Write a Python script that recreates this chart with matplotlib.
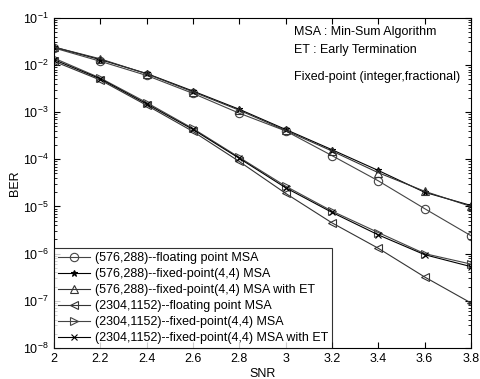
import matplotlib
matplotlib.use("Agg")
import matplotlib.pyplot as plt
from matplotlib.ticker import LogLocator, NullFormatter

plt.rcParams['font.family'] = ['Liberation Sans', 'DejaVu Sans']
plt.rcParams['mathtext.default'] = 'regular'

snr = [2.0, 2.2, 2.4, 2.6, 2.8, 3.0, 3.2, 3.4, 3.6, 3.8]

# BER curves
ber_576_float = [2.3e-2, 1.2e-2, 6.0e-3, 2.5e-3, 9.5e-4, 4.0e-4, 1.2e-4, 3.5e-5, 9.0e-6, 2.4e-6]
ber_576_fixed = [2.4e-2, 1.3e-2, 6.6e-3, 2.8e-3, 1.15e-3, 4.3e-4, 1.6e-4, 5.8e-5, 2.0e-5, 1.05e-5]
ber_576_fixed_et = [2.4e-2, 1.35e-2, 6.5e-3, 2.7e-3, 1.1e-3, 4.1e-4, 1.5e-4, 5.2e-5, 2.1e-5, 1.0e-5]
ber_2304_float = [1.2e-2, 4.8e-3, 1.4e-3, 3.9e-4, 9.0e-5, 1.9e-5, 4.5e-6, 1.3e-6, 3.2e-7, 9.0e-8]
ber_2304_fixed = [1.4e-2, 5.3e-3, 1.6e-3, 4.5e-4, 1.1e-4, 2.7e-5, 8.0e-6, 2.8e-6, 1.0e-6, 6.0e-7]
ber_2304_fixed_et = [1.3e-2, 5.1e-3, 1.5e-3, 4.3e-4, 1.05e-4, 2.5e-5, 7.5e-6, 2.5e-6, 9.5e-7, 5.3e-7]

labels = [
    "(576,288)--floating point MSA",
    "(576,288)--fixed-point(4,4) MSA",
    "(576,288)--fixed-point(4,4) MSA with ET",
    "(2304,1152)--floating point MSA",
    "(2304,1152)--fixed-point(4,4) MSA",
    "(2304,1152)--fixed-point(4,4) MSA with ET",
]

fig = plt.figure(figsize=(4.81, 3.79), dpi=100)
ax = fig.add_axes([0.112, 0.082, 0.867, 0.871])

series = [ber_576_float, ber_576_fixed, ber_576_fixed_et,
          ber_2304_float, ber_2304_fixed, ber_2304_fixed_et]
markers = ['o', '*', '^', '<', '>', 'x']
msizes = [6, 5, 6, 6, 6, 4]
colors = ['#444444', 'black', '#333333', '#333333', '#444444', 'black']

for ys, m, ms, c, lab in zip(series, markers, msizes, colors, labels):
    ax.semilogy(snr, ys, color=c, marker=m, markersize=ms, lw=0.8,
                markerfacecolor='none' if m not in ('*', 'x') else c,
                markeredgecolor=c, markeredgewidth=0.8, label=lab)

ax.set_xlim(2, 3.8)
ax.set_ylim(1e-8, 1e-1)
ax.set_xticks(snr)
ax.set_xticklabels([f"{v:g}" for v in snr])
ax.yaxis.set_major_locator(LogLocator(base=10, numticks=10))
ax.yaxis.set_minor_locator(LogLocator(base=10, subs=range(2, 10), numticks=20))
ax.yaxis.set_minor_formatter(NullFormatter())
ax.tick_params(which='both', direction='in', top=True, right=True, labelsize=9)
ax.tick_params(which='major', length=4)
ax.tick_params(which='minor', length=2)
for s in ax.spines.values():
    s.set_linewidth(0.8)

ax.set_xlabel("SNR", fontsize=9, labelpad=2)
ax.set_ylabel("BER", fontsize=9, labelpad=2)

ax.text(0.576, 0.976, "MSA : Min-Sum Algorithm", transform=ax.transAxes,
        fontsize=9, va='top')
ax.text(0.576, 0.921, "ET : Early Termination", transform=ax.transAxes,
        fontsize=9, va='top')
ax.text(0.576, 0.839, "Fixed-point (integer,fractional)", transform=ax.transAxes,
        fontsize=9, va='top')

leg = ax.legend(loc='lower left', fontsize=9, frameon=True, fancybox=False,
                borderaxespad=0, handlelength=2.6, handletextpad=0.4,
                labelspacing=0.32, borderpad=0.3)
leg.get_frame().set_edgecolor('black')
leg.get_frame().set_linewidth(0.8)

fig.savefig("out.png", dpi=100)
